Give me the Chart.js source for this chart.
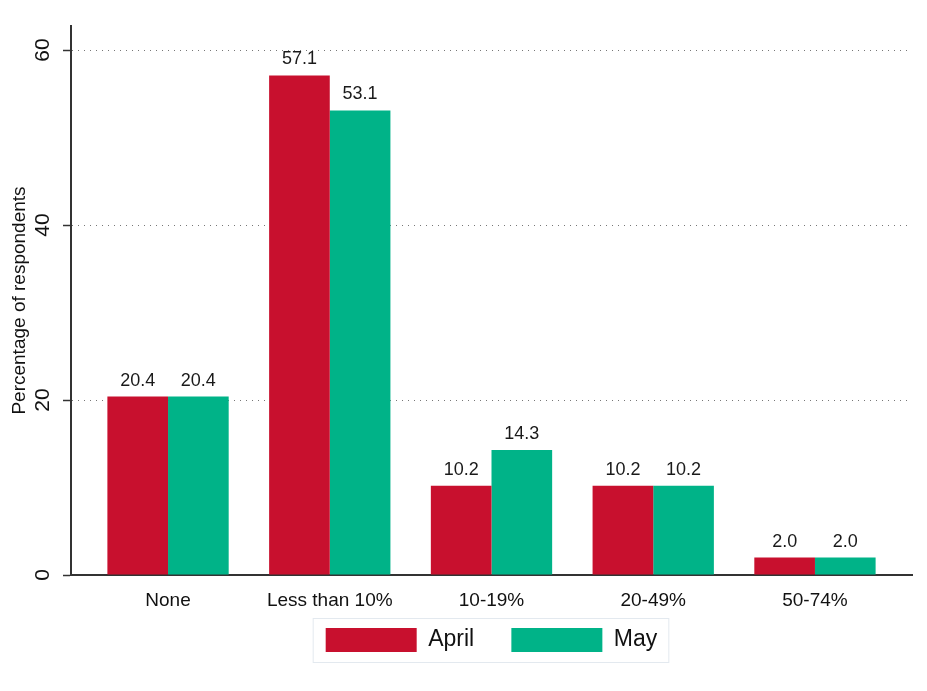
<!DOCTYPE html>
<html>
<head>
<meta charset="utf-8">
<script src="https://cdn.jsdelivr.net/npm/chart.js@4"></script>
<style>
  html, body { margin: 0; padding: 0; background: #fff; }
  #wrap { width: 927px; height: 691px; }
</style>
</head>
<body>
<div id="wrap"><canvas id="chart"></canvas></div>
<script>
const categories = ['None', 'Less than 10%', '10-19%', '20-49%', '50-74%'];
const aprilValues = [20.4, 57.1, 10.2, 10.2, 2.0];
const mayValues = [20.4, 53.1, 14.3, 10.2, 2.0];
const yTicks = [0, 20, 40, 60];

const FONT = "'Liberation Sans', Arial, Helvetica, sans-serif";
const RED = '#C8102E';
const GREEN = '#00B388';

const barLabels = {
  id: 'barLabels',
  afterDatasetsDraw(chart) {
    const c = chart.ctx;
    c.save();
    c.font = '18px ' + FONT;
    c.fillStyle = '#1a1a1a';
    c.textAlign = 'center';
    c.textBaseline = 'alphabetic';
    chart.data.datasets.forEach((ds, di) => {
      chart.getDatasetMeta(di).data.forEach((bar, i) => {
        c.fillText(ds.data[i].y.toFixed(1), bar.x, bar.y - 11);
      });
    });
    c.restore();
  }
};

const legendFrame = {
  id: 'legendFrame',
  afterDraw(chart) {
    const boxes = chart.legend && chart.legend.legendHitBoxes;
    if (!boxes || !boxes.length) return;
    const first = boxes[0], last = boxes[boxes.length - 1];
    const c = chart.ctx;
    c.save();
    c.strokeStyle = '#e3e9ef';
    c.lineWidth = 1;
    c.strokeRect(first.left - 12.5, first.top - 9.5, (last.left + last.width) - first.left + 24, first.height + 20);
    c.restore();
  }
};

new Chart(document.getElementById('chart'), {
  type: 'bar',
  data: {
    datasets: [
      { label: 'April', data: aprilValues.map((v, i) => ({ x: i, y: v })),
        backgroundColor: RED, borderWidth: 0, categoryPercentage: 0.75, barPercentage: 1 },
      { label: 'May', data: mayValues.map((v, i) => ({ x: i, y: v })),
        backgroundColor: GREEN, borderWidth: 0, categoryPercentage: 0.75, barPercentage: 1 },
    ]
  },
  options: {
    responsive: true, maintainAspectRatio: false,
    animation: false,
    layout: { padding: { left: 0, right: 15, top: 26, bottom: 29 } },
    plugins: {
      legend: {
        position: 'bottom',
        fullSize: false,
        labels: {
          boxWidth: 91, boxHeight: 24, padding: 18,
          color: '#111', font: { family: FONT, size: 23 },
          // widen the gap between the two entries
          generateLabels: chart => {
            const items = Chart.defaults.plugins.legend.labels.generateLabels(chart);
            items.forEach((it, i) => { if (i < items.length - 1) it.text += '   '; });
            return items;
          }
        }
      },
      tooltip: { enabled: false },
    },
    scales: {
      x: {
        type: 'linear',
        offset: false,
        min: -0.6, max: 4.6,
        afterBuildTicks: s => { s.ticks = categories.map((_, i) => ({ value: i })); },
        afterFit: s => { s.height = 35; },
        border: { color: '#333', width: 2 },
        grid: { display: false },
        ticks: {
          autoSkip: false, maxRotation: 0, minRotation: 0,
          padding: 6,
          color: '#111', font: { family: FONT, size: 19 },
          callback: v => categories[Math.round(v)],
        },
      },
      y: {
        min: 0, max: 62.75,
        afterBuildTicks: s => { s.ticks = yTicks.map(v => ({ value: v })); },
        afterFit: s => { s.width = 71; },
        border: { color: '#333', width: 2, dash: [1, 5] },
        grid: {
          color: ctx => ctx.tick && ctx.tick.value === 0 ? 'rgba(0,0,0,0)' : '#777',
          tickColor: '#333', tickLength: 8, tickWidth: 1.5, tickBorderDash: [],
        },
        ticks: {
          minRotation: 90, maxRotation: 90,
          crossAlign: 'center', padding: 8,
          color: '#111', font: { family: FONT, size: 21 },
        },
        title: {
          display: true, text: 'Percentage of respondents',
          color: '#111', font: { family: FONT, size: 19 },
          padding: { top: 8, bottom: 0 },
        },
      },
    }
  },
  plugins: [barLabels, legendFrame]
});
</script>
</body>
</html>
